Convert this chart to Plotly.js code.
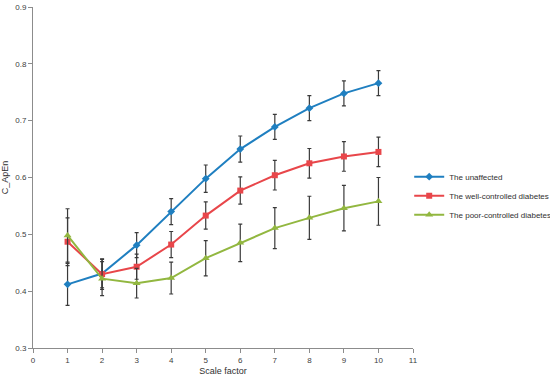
<!DOCTYPE html>
<html>
<head>
<meta charset="utf-8">
<script src="https://cdn.plot.ly/plotly-3.0.1.min.js"></script>
<style>html,body{margin:0;padding:0;background:#fff;}#chart{width:550px;height:381px;}</style>
</head>
<body>
<div id="chart"></div>
<script>
var scaleFactor = [1, 2, 3, 4, 5, 6, 7, 8, 9, 10];
var unaffected = [0.412, 0.431, 0.481, 0.540, 0.598, 0.650, 0.689, 0.722, 0.748, 0.766];
var unaffectedErr = [0.037, 0.025, 0.022, 0.023, 0.024, 0.023, 0.022, 0.022, 0.022, 0.022];
var wellControlled = [0.487, 0.430, 0.443, 0.482, 0.533, 0.577, 0.604, 0.625, 0.637, 0.645];
var wellControlledErr = [0.042, 0.027, 0.022, 0.023, 0.024, 0.024, 0.026, 0.026, 0.026, 0.026];
var poorControlled = [0.498, 0.422, 0.414, 0.423, 0.458, 0.485, 0.511, 0.529, 0.546, 0.558];
var poorControlledErr = [0.047, 0.030, 0.026, 0.028, 0.031, 0.033, 0.036, 0.038, 0.040, 0.042];
var seriesNames = ['The unaffected', 'The well-controlled diabetes', 'The poor-controlled diabetes'];

var font = '"Liberation Sans", Arial, sans-serif';
function errBar(arr) {
  return {type: 'data', array: arr, visible: true, color: '#3a3a3a', thickness: 1.2, width: 2};
}
var traces = [
  {x: scaleFactor, y: unaffected, error_y: errBar(unaffectedErr), name: seriesNames[0],
   mode: 'lines+markers', line: {color: '#1f7fc0', width: 2},
   marker: {symbol: 'diamond', size: 6, color: '#1f7fc0'}},
  {x: scaleFactor, y: wellControlled, error_y: errBar(wellControlledErr), name: seriesNames[1],
   mode: 'lines+markers', line: {color: '#e8464a', width: 2},
   marker: {symbol: 'square', size: 6, color: '#e8464a'}},
  {x: scaleFactor, y: poorControlled, error_y: errBar(poorControlledErr), name: seriesNames[2],
   mode: 'lines+markers', line: {color: '#92b740', width: 2},
   marker: {symbol: 'triangle-up', size: 7, color: '#92b740'}}
];
var axisCommon = {
  showgrid: false, zeroline: false, showline: true, linecolor: '#8c8c8c', linewidth: 1,
  ticks: 'outside', ticklen: 4, tickcolor: '#8c8c8c',
  tickfont: {family: font, size: 8, color: '#404040'}
};
var layout = {
  width: 550, height: 381,
  margin: {l: 33, r: 137, t: 7, b: 33, autoexpand: false},
  paper_bgcolor: '#fff', plot_bgcolor: '#fff',
  showlegend: true,
  legend: {x: 0.99, y: 0.545, xanchor: 'left', yanchor: 'top',
           font: {family: font, size: 8, color: '#303030'},
           bgcolor: 'rgba(0,0,0,0)', tracegroupgap: 0, itemwidth: 30},
  xaxis: Object.assign({}, axisCommon, {range: [0, 11], dtick: 1, tick0: 0,
    title: {text: 'Scale factor', font: {family: font, size: 9, color: '#303030'}, standoff: 4}}),
  yaxis: Object.assign({}, axisCommon, {range: [0.3, 0.9], dtick: 0.1, tick0: 0.3, tickformat: '.1f',
    title: {text: 'C_ApEn', font: {family: font, size: 9, color: '#303030'}, standoff: 6}})
};
Plotly.newPlot('chart', traces, layout, {displayModeBar: false, staticPlot: true});
</script>
</body>
</html>
